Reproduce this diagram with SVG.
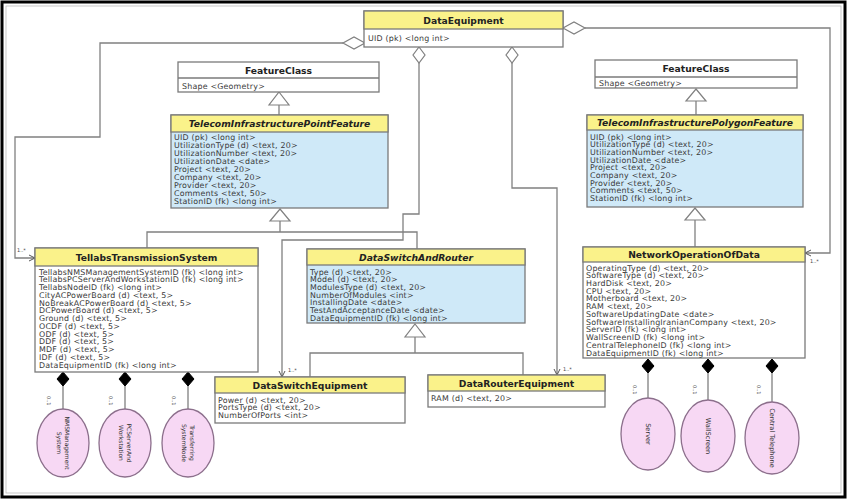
<svg xmlns="http://www.w3.org/2000/svg" width="847" height="500" viewBox="0 0 847 500">
<style>
.box{fill:#fff;stroke:#7a7a7a;stroke-width:1.3}
.blue{fill:#cfe9f8;stroke:#7a7a7a;stroke-width:1.3}
.hdr{fill:#faf28a;stroke:#7a7a7a;stroke-width:1.3}
.t{font-family:"DejaVu Sans",sans-serif;font-size:7.9px;letter-spacing:0.2px;fill:#3a3a3a}
.ttl{font-family:"DejaVu Sans",sans-serif;font-weight:bold;font-size:9.2px;fill:#222;text-anchor:middle}
.it{font-style:italic}
.conn{fill:none;stroke:#808080;stroke-width:1.3}
.gen{fill:#fff;stroke:#808080;stroke-width:1.2}
.agg{fill:#fff;stroke:#808080;stroke-width:1.2}
.comp{fill:#000;stroke:#000;stroke-width:1}
.lbl{font-family:"DejaVu Sans",sans-serif;font-size:5px;fill:#444}
.ell{fill:#f7d8f4;stroke:#8c6f8c;stroke-width:1.3}
.et{font-family:"DejaVu Sans",sans-serif;font-size:6.6px;fill:#333;text-anchor:middle}
.es{font-size:6px}
</style>
<defs>
<marker id="arr" markerWidth="8" markerHeight="8" refX="7" refY="4" orient="auto" markerUnits="userSpaceOnUse">
<path d="M1,1 L7,4 L1,7" fill="none" stroke="#555" stroke-width="1"/>
</marker>
</defs>
<rect x="0" y="0" width="847" height="500" fill="#fff"/>
<rect x="2" y="2" width="843" height="495" fill="none" stroke="#000" stroke-width="3"/>
<rect x="6" y="6" width="835" height="487" fill="none" stroke="#bbb" stroke-width="0.8"/>

<g id="connectors">
<!-- generalizations -->
<line class="conn" x1="279" y1="105" x2="279" y2="115"/>
<polygon class="gen" points="279,92 289,105 269,105"/>
<line class="conn" x1="696" y1="101" x2="696" y2="115"/>
<polygon class="gen" points="696,89 706,101 686,101"/>
<path class="conn" d="M280,221 V232 M147,248 V232 H417 V249"/>
<polygon class="gen" points="280,209 290,221 270,221"/>
<line class="conn" x1="695" y1="220" x2="695" y2="247"/>
<polygon class="gen" points="695,208 705,220 685,220"/>
<path class="conn" d="M415,337 V353 M310,377 V353 H523 V375"/>
<polygon class="gen" points="415,324 425,337 405,337"/>
<!-- aggregations -->
<path class="conn" d="M343,43 H100 V137 H15 V258 H35" marker-end="url(#arr)"/>
<polygon class="agg" points="365,43 354,37 343,43 354,49"/>
<text class="lbl" x="17" y="252">1..*</text>
<path class="conn" d="M419,63 V214 H403 V240 H282 V377" marker-end="url(#arr)"/>
<polygon class="agg" points="419,47 425,55 419,63 413,55"/>
<text class="lbl" x="288" y="372">1..*</text>
<path class="conn" d="M512,63 V188 H557 V375" marker-end="url(#arr)"/>
<polygon class="agg" points="512,47 518,55 512,63 506,55"/>
<text class="lbl" x="563" y="371">1..*</text>
<path class="conn" d="M585,28 H830 V253 H805" marker-end="url(#arr)"/>
<polygon class="agg" points="563,28 574,22 585,28 574,34"/>
<text class="lbl" x="810" y="263">1..*</text>
<!-- compositions -->
<path class="conn" d="M63,386 V409 M125,386 V409 M188,386 V409 M648,373 V398 M708,373 V400 M772,373 V402"/>
<polygon class="comp" points="63,372 69,379 63,386 57,379"/>
<polygon class="comp" points="125,372 131,379 125,386 119,379"/>
<polygon class="comp" points="188,372 194,379 188,386 182,379"/>
<polygon class="comp" points="648,359 654,366 648,373 642,366"/>
<polygon class="comp" points="708,359 714,366 708,373 702,366"/>
<polygon class="comp" points="772,359 778,366 772,373 766,366"/>
<text class="lbl" transform="translate(47,396) rotate(90)">0..1</text>
<text class="lbl" transform="translate(109,396) rotate(90)">0..1</text>
<text class="lbl" transform="translate(172,396) rotate(90)">0..1</text>
<text class="lbl" transform="translate(633,385) rotate(90)">0..1</text>
<text class="lbl" transform="translate(693,385) rotate(90)">0..1</text>
<text class="lbl" transform="translate(757,385) rotate(90)">0..1</text>
</g>

<g id="DataEquipment">
<rect class="box" x="364" y="11" width="199" height="36"/>
<rect class="hdr" x="364" y="11" width="199" height="18"/>
<text class="ttl" x="463.5" y="23.5">DataEquipment</text>
<text class="t" x="368" y="40.5">UID (pk) &lt;long int&gt;</text>
</g>

<g id="FeatureClassLeft">
<rect class="box" x="178" y="62" width="201" height="30"/>
<line x1="178" y1="78" x2="379" y2="78" stroke="#7a7a7a" stroke-width="1.3"/>
<text class="ttl" x="278.5" y="73.5">FeatureClass</text>
<text class="t" x="182" y="88.5">Shape &lt;Geometry&gt;</text>
</g>

<g id="TelecomInfrastructurePointFeature">
<rect class="blue" x="171" y="115" width="217" height="93"/>
<rect class="hdr" x="171" y="115" width="217" height="17"/>
<text class="ttl it" x="279.5" y="127">TelecomInfrastructurePointFeature</text>
<text class="t" x="174" y="140">UID (pk) &lt;long int&gt;</text>
<text class="t" x="174" y="148">UtilizationType (d) &lt;text, 20&gt;</text>
<text class="t" x="174" y="156">UtilizationNumber &lt;text, 20&gt;</text>
<text class="t" x="174" y="164">UtilizationDate &lt;date&gt;</text>
<text class="t" x="174" y="172">Project &lt;text, 20&gt;</text>
<text class="t" x="174" y="180">Company &lt;text, 20&gt;</text>
<text class="t" x="174" y="188">Provider &lt;text, 20&gt;</text>
<text class="t" x="174" y="196">Comments &lt;text, 50&gt;</text>
<text class="t" x="174" y="204">StationID (fk) &lt;long int&gt;</text>
</g>

<g id="FeatureClassRight">
<rect class="box" x="595" y="60" width="202" height="28"/>
<line x1="595" y1="77" x2="797" y2="77" stroke="#7a7a7a" stroke-width="1.3"/>
<text class="ttl" x="696" y="72">FeatureClass</text>
<text class="t" x="599" y="85.5">Shape &lt;Geometry&gt;</text>
</g>

<g id="TelecomInfrastructurePolygonFeature">
<rect class="blue" x="587" y="115" width="216" height="92"/>
<rect class="hdr" x="587" y="115" width="216" height="15"/>
<text class="ttl it" x="695" y="126">TelecomInfrastructurePolygonFeature</text>
<text class="t" x="590" y="139.5">UID (pk) &lt;long int&gt;</text>
<text class="t" x="590" y="147.2">UtilizationType (d) &lt;text, 20&gt;</text>
<text class="t" x="590" y="154.9">UtilizationNumber &lt;text, 20&gt;</text>
<text class="t" x="590" y="162.6">UtilizationDate &lt;date&gt;</text>
<text class="t" x="590" y="170.3">Project &lt;text, 20&gt;</text>
<text class="t" x="590" y="178">Company &lt;text, 20&gt;</text>
<text class="t" x="590" y="185.7">Provider &lt;text, 20&gt;</text>
<text class="t" x="590" y="193.4">Comments &lt;text, 50&gt;</text>
<text class="t" x="590" y="201.1">StationID (fk) &lt;long int&gt;</text>
</g>

<g id="TellabsTransmissionSystem">
<rect class="box" x="35" y="248" width="223" height="124"/>
<rect class="hdr" x="35" y="248" width="223" height="18"/>
<text class="ttl" x="146.5" y="260.5">TellabsTransmissionSystem</text>
<text class="t" x="39" y="274.5">TellabsNMSManagementSystemID (fk) &lt;long int&gt;</text>
<text class="t" x="39" y="282.2">TellabsPCServerAndWorkstationID (fk) &lt;long int&gt;</text>
<text class="t" x="39" y="290">TellabsNodeID (fk) &lt;long int&gt;</text>
<text class="t" x="39" y="297.7">CityACPowerBoard (d) &lt;text, 5&gt;</text>
<text class="t" x="39" y="305.5">NoBreakACPowerBoard (d) &lt;text, 5&gt;</text>
<text class="t" x="39" y="313.2">DCPowerBoard (d) &lt;text, 5&gt;</text>
<text class="t" x="39" y="321">Ground (d) &lt;text, 5&gt;</text>
<text class="t" x="39" y="328.7">OCDF (d) &lt;text, 5&gt;</text>
<text class="t" x="39" y="336.5">ODF (d) &lt;text, 5&gt;</text>
<text class="t" x="39" y="344.2">DDF (d) &lt;text, 5&gt;</text>
<text class="t" x="39" y="352">MDF (d) &lt;text, 5&gt;</text>
<text class="t" x="39" y="359.7">IDF (d) &lt;text, 5&gt;</text>
<text class="t" x="39" y="367.5">DataEquipmentID (fk) &lt;long int&gt;</text>
</g>

<g id="DataSwitchAndRouter">
<rect class="blue" x="307" y="249" width="218" height="74"/>
<rect class="hdr" x="307" y="249" width="218" height="16"/>
<text class="ttl it" x="416" y="260.5">DataSwitchAndRouter</text>
<text class="t" x="310" y="274.5">Type (d) &lt;text, 20&gt;</text>
<text class="t" x="310" y="282.2">Model (d) &lt;text, 20&gt;</text>
<text class="t" x="310" y="289.8">ModulesType (d) &lt;text, 20&gt;</text>
<text class="t" x="310" y="297.5">NumberOfModules &lt;int&gt;</text>
<text class="t" x="310" y="305.2">InstallingDate &lt;date&gt;</text>
<text class="t" x="310" y="312.8">TestAndAcceptanceDate &lt;date&gt;</text>
<text class="t" x="310" y="320.5">DataEquipmentID (fk) &lt;long int&gt;</text>
</g>

<g id="NetworkOperationOfData">
<rect class="box" x="583" y="247" width="222" height="111"/>
<rect class="hdr" x="583" y="247" width="222" height="15"/>
<text class="ttl" x="694" y="258">NetworkOperationOfData</text>
<text class="t" x="586" y="270.5">OperatingType (d) &lt;text, 20&gt;</text>
<text class="t" x="586" y="278.2">SoftwareType (d) &lt;text, 20&gt;</text>
<text class="t" x="586" y="286">HardDisk &lt;text, 20&gt;</text>
<text class="t" x="586" y="293.7">CPU &lt;text, 20&gt;</text>
<text class="t" x="586" y="301.4">Motherboard &lt;text, 20&gt;</text>
<text class="t" x="586" y="309.2">RAM &lt;text, 20&gt;</text>
<text class="t" x="586" y="316.9">SoftwareUpdatingDate &lt;date&gt;</text>
<text class="t" x="586" y="324.6">SoftwareInstallingIranianCompany &lt;text, 20&gt;</text>
<text class="t" x="586" y="332.3">ServerID (fk) &lt;long int&gt;</text>
<text class="t" x="586" y="340.1">WallScreenID (fk) &lt;long int&gt;</text>
<text class="t" x="586" y="347.8">CentralTelephoneID (fk) &lt;long int&gt;</text>
<text class="t" x="586" y="355.5">DataEquipmentID (fk) &lt;long int&gt;</text>
</g>

<g id="DataSwitchEquipment">
<rect class="box" x="215" y="377" width="190" height="46"/>
<rect class="hdr" x="215" y="377" width="190" height="16"/>
<text class="ttl" x="310" y="388.5">DataSwitchEquipment</text>
<text class="t" x="218" y="402.5">Power (d) &lt;text, 20&gt;</text>
<text class="t" x="218" y="410.3">PortsType (d) &lt;text, 20&gt;</text>
<text class="t" x="218" y="418.1">NumberOfPorts &lt;int&gt;</text>
</g>

<g id="DataRouterEquipment">
<rect class="box" x="428" y="375" width="177" height="32"/>
<rect class="hdr" x="428" y="375" width="177" height="16"/>
<text class="ttl" x="516.5" y="386.5">DataRouterEquipment</text>
<text class="t" x="431" y="401">RAM (d) &lt;text, 20&gt;</text>
</g>

<g id="NMSManagementSystem">
<ellipse class="ell" cx="63" cy="443" rx="26" ry="34"/>
<text class="et es" transform="translate(63,443) rotate(90)"><tspan x="0" y="-1.5">NMSManagement</tspan><tspan x="0" y="6">System</tspan></text>
</g>
<g id="PCServerAndWorkstation">
<ellipse class="ell" cx="125" cy="443" rx="26" ry="34"/>
<text class="et es" transform="translate(125,443) rotate(90)"><tspan x="0" y="-1.5">PCServerAnd</tspan><tspan x="0" y="6">Workstation</tspan></text>
</g>
<g id="TransferringSystemNode">
<ellipse class="ell" cx="188" cy="443" rx="26" ry="34"/>
<text class="et es" transform="translate(188,443) rotate(90)"><tspan x="0" y="-1.5">Transferring</tspan><tspan x="0" y="6">SystemNode</tspan></text>
</g>
<g id="Server">
<ellipse class="ell" cx="648" cy="434" rx="27" ry="36"/>
<text class="et" transform="translate(648,434) rotate(90)" y="2.5">Server</text>
</g>
<g id="WallScreen">
<ellipse class="ell" cx="708" cy="436" rx="27" ry="36"/>
<text class="et" transform="translate(708,436) rotate(90)" y="2.5">WallScreen</text>
</g>
<g id="CentralTelephone">
<ellipse class="ell" cx="772" cy="438" rx="27" ry="36"/>
<text class="et" transform="translate(772,438) rotate(90)" y="2.5">Central Telephone</text>
</g>
</svg>
